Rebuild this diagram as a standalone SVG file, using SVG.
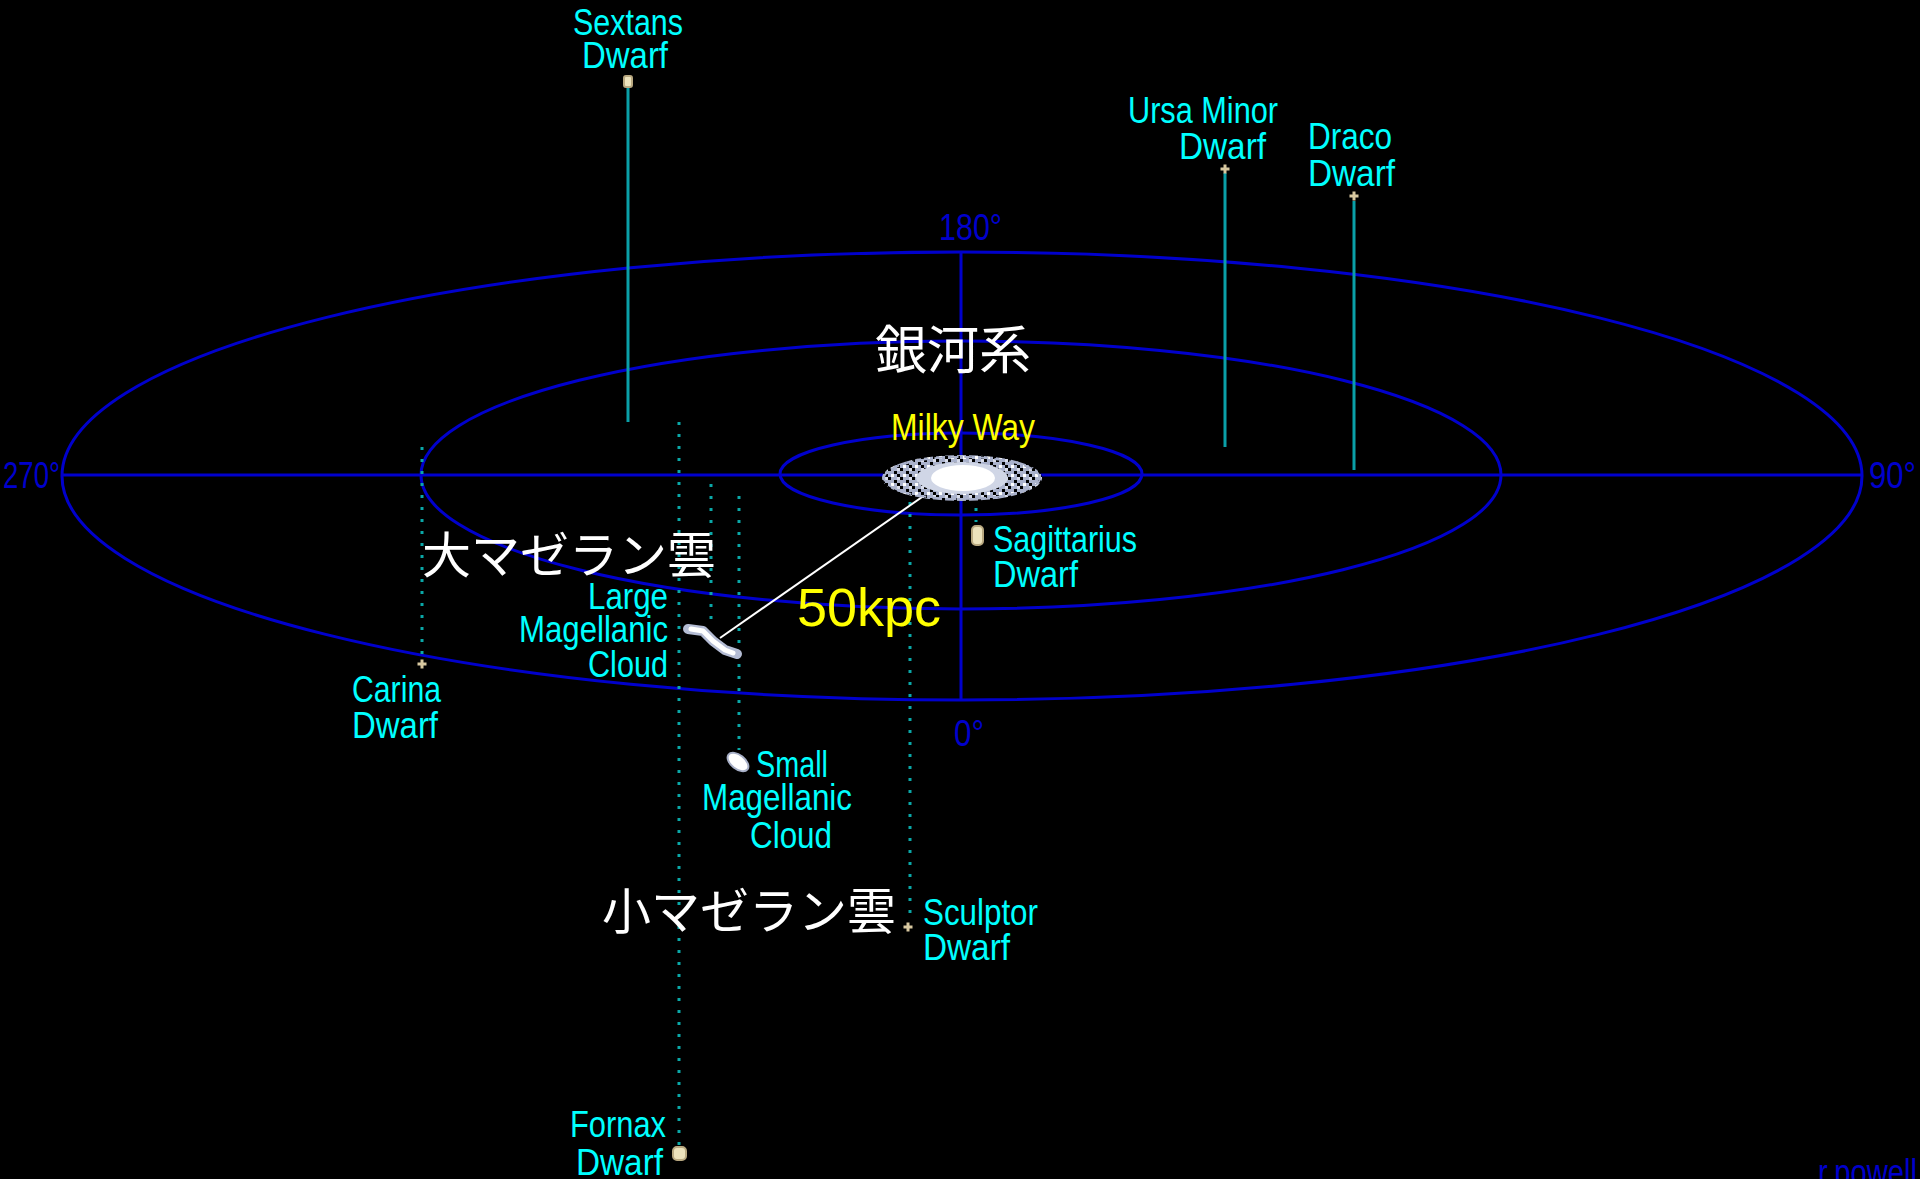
<svg xmlns="http://www.w3.org/2000/svg" width="1920" height="1179" viewBox="0 0 1920 1179">
  <style>
    .orbit { fill: none; stroke: #0000cc; stroke-width: 3; }
    .axis { stroke: #0000cc; stroke-width: 3; }
    .drop { stroke: #0aa0a8; stroke-width: 3; }
    .dots { stroke: #0aa8a8; stroke-width: 3; stroke-dasharray: 3 9; }
    .lbl { font-family: "Liberation Sans", Arial, sans-serif; font-size: 36px; fill: #00ffff; }
    .deg { font-family: "Liberation Sans", Arial, sans-serif; font-size: 36px; fill: #0000cc; }
    .jp { font-family: "Noto Sans CJK JP", "Noto Sans CJK SC", sans-serif; fill: #ffffff; }
    .cross { fill: #d8c8a0; }
    .blob { fill: #ece2bc; stroke: #b8a880; stroke-width: 2; }
  </style>
  <defs>
    <path id="plus" d="M-1.5,-4.5h3v3h3v3h-3v3h-3v-3h-3v-3h3z"/>
    <!-- speckled disc texture for the galaxy sprite -->
    <pattern id="speckle" width="12" height="9" patternUnits="userSpaceOnUse">
      <rect width="12" height="9" fill="#aab2cc"/>
      <rect x="0" y="0" width="3" height="3" fill="#000000"/>
      <rect x="6" y="3" width="3" height="3" fill="#000000"/>
      <rect x="3" y="6" width="3" height="3" fill="#ffffff"/>
      <rect x="9" y="0" width="3" height="3" fill="#d8dcea"/>
      <rect x="9" y="6" width="3" height="3" fill="#000000"/>
    </pattern>
  </defs>
  <rect width="1920" height="1179" fill="#000000"/>

  <!-- galactic plane: orbit rings and axes -->
  <g id="plane">
    <ellipse class="orbit" cx="962" cy="476" rx="900" ry="224"/>
    <ellipse class="orbit" cx="961" cy="475" rx="540" ry="134"/>
    <ellipse class="orbit" cx="961" cy="474" rx="181" ry="41"/>
    <line class="axis" x1="62" y1="475" x2="1862" y2="475"/>
    <line class="axis" x1="961" y1="252" x2="961" y2="700"/>
    <text class="deg" x="939" y="240" textLength="63" lengthAdjust="spacingAndGlyphs">180°</text>
    <text class="deg" x="3" y="488" textLength="57" lengthAdjust="spacingAndGlyphs">270°</text>
    <text class="deg" x="1869" y="488" textLength="47" lengthAdjust="spacingAndGlyphs">90°</text>
    <text class="deg" x="954" y="746" textLength="30" lengthAdjust="spacingAndGlyphs">0°</text>
  </g>

  <!-- connectors: solid drops and dotted projections -->
  <g id="connectors">
    <line class="drop" x1="628" y1="87" x2="628" y2="422"/>
    <line class="drop" x1="1225" y1="173" x2="1225" y2="447"/>
    <line class="drop" x1="1354" y1="201" x2="1354" y2="470"/>
    <line class="dots" x1="422" y1="447" x2="422" y2="658"/>
    <line class="dots" x1="679" y1="422" x2="679" y2="1146"/>
    <line class="dots" x1="711" y1="484" x2="711" y2="626"/>
    <line class="dots" x1="739" y1="496" x2="739" y2="750"/>
    <line class="dots" x1="910" y1="502" x2="910" y2="922"/>
    <line class="dots" x1="976" y1="508" x2="976" y2="522"/>
    <line x1="720" y1="638" x2="945" y2="481" stroke="#ffffff" stroke-width="2"/>
  </g>

  <!-- Milky Way -->
  <g id="milky-way">
    <ellipse cx="962" cy="478" rx="80" ry="23" fill="url(#speckle)"/>
    <ellipse cx="962" cy="478" rx="78" ry="21" fill="none" stroke="#aab2cc" stroke-width="2" stroke-dasharray="9 6"/>
    <ellipse cx="962" cy="478" rx="46" ry="16" fill="#d0d6e6"/>
    <ellipse cx="963" cy="478" rx="32" ry="13" fill="#ffffff"/>
    <text class="jp" x="875" y="369" font-size="52">銀河系</text>
    <text class="lbl" x="891" y="440" style="fill:#ffff00" textLength="144" lengthAdjust="spacingAndGlyphs">Milky Way</text>
    <text x="797" y="626" font-family="'Liberation Sans', Arial, sans-serif" font-size="54" fill="#ffff00">50kpc</text>
  </g>

  <!-- Sextans Dwarf -->
  <g id="sextans">
    <rect class="blob" x="624" y="76" width="8" height="11" rx="2"/>
    <text class="lbl" x="573" y="35" textLength="110" lengthAdjust="spacingAndGlyphs">Sextans</text>
    <text class="lbl" x="582" y="68" textLength="86" lengthAdjust="spacingAndGlyphs">Dwarf</text>
  </g>

  <!-- Ursa Minor Dwarf -->
  <g id="ursa-minor">
    <use href="#plus" class="cross" x="1225" y="169"/>
    <text class="lbl" x="1128" y="123" textLength="150" lengthAdjust="spacingAndGlyphs">Ursa Minor</text>
    <text class="lbl" x="1179" y="159" textLength="87" lengthAdjust="spacingAndGlyphs">Dwarf</text>
  </g>

  <!-- Draco Dwarf -->
  <g id="draco">
    <use href="#plus" class="cross" x="1354" y="196"/>
    <text class="lbl" x="1308" y="149" textLength="84" lengthAdjust="spacingAndGlyphs">Draco</text>
    <text class="lbl" x="1308" y="186" textLength="87" lengthAdjust="spacingAndGlyphs">Dwarf</text>
  </g>

  <!-- Sagittarius Dwarf -->
  <g id="sagittarius">
    <rect class="blob" x="972" y="526" width="11" height="19" rx="4"/>
    <text class="lbl" x="993" y="552" textLength="144" lengthAdjust="spacingAndGlyphs">Sagittarius</text>
    <text class="lbl" x="993" y="587" textLength="85" lengthAdjust="spacingAndGlyphs">Dwarf</text>
  </g>

  <!-- Large Magellanic Cloud -->
  <g id="lmc">
    <path d="M688,629 L703,631 L713,641 L725,650 L737,654" fill="none" stroke="#b4bcd4" stroke-width="10" stroke-linecap="round" stroke-linejoin="round"/>
    <path d="M691,629 L703,631 L713,641 L725,650 L733,653" fill="none" stroke="#ffffff" stroke-width="5" stroke-linecap="round" stroke-linejoin="round"/>
    <text class="jp" x="422" y="573" font-size="49">大マゼラン雲</text>
    <text class="lbl" x="588" y="609" textLength="80" lengthAdjust="spacingAndGlyphs">Large</text>
    <text class="lbl" x="519" y="642" textLength="149" lengthAdjust="spacingAndGlyphs">Magellanic</text>
    <text class="lbl" x="588" y="677" textLength="80" lengthAdjust="spacingAndGlyphs">Cloud</text>
  </g>

  <!-- Carina Dwarf -->
  <g id="carina">
    <use href="#plus" class="cross" x="422" y="664"/>
    <text class="lbl" x="352" y="702" textLength="89" lengthAdjust="spacingAndGlyphs">Carina</text>
    <text class="lbl" x="352" y="738" textLength="86" lengthAdjust="spacingAndGlyphs">Dwarf</text>
  </g>

  <!-- Small Magellanic Cloud -->
  <g id="smc">
    <ellipse cx="738" cy="762" rx="12" ry="7" transform="rotate(38 738 762)" fill="#ffffff" stroke="#a8b0c8" stroke-width="2"/>
    <text class="lbl" x="756" y="777" textLength="72" lengthAdjust="spacingAndGlyphs">Small</text>
    <text class="lbl" x="702" y="810" textLength="150" lengthAdjust="spacingAndGlyphs">Magellanic</text>
    <text class="lbl" x="750" y="848" textLength="82" lengthAdjust="spacingAndGlyphs">Cloud</text>
    <text class="jp" x="602" y="929" font-size="49">小マゼラン雲</text>
  </g>

  <!-- Sculptor Dwarf -->
  <g id="sculptor">
    <use href="#plus" class="cross" x="908" y="927"/>
    <text class="lbl" x="923" y="925" textLength="115" lengthAdjust="spacingAndGlyphs">Sculptor</text>
    <text class="lbl" x="923" y="960" textLength="87" lengthAdjust="spacingAndGlyphs">Dwarf</text>
  </g>

  <!-- Fornax Dwarf -->
  <g id="fornax">
    <rect class="blob" x="673" y="1147" width="13" height="13" rx="4"/>
    <text class="lbl" x="570" y="1137" textLength="96" lengthAdjust="spacingAndGlyphs">Fornax</text>
    <text class="lbl" x="576" y="1175" textLength="87" lengthAdjust="spacingAndGlyphs">Dwarf</text>
  </g>

  <text class="deg" x="1818" y="1185" textLength="99" lengthAdjust="spacingAndGlyphs">r.powell</text>
</svg>
